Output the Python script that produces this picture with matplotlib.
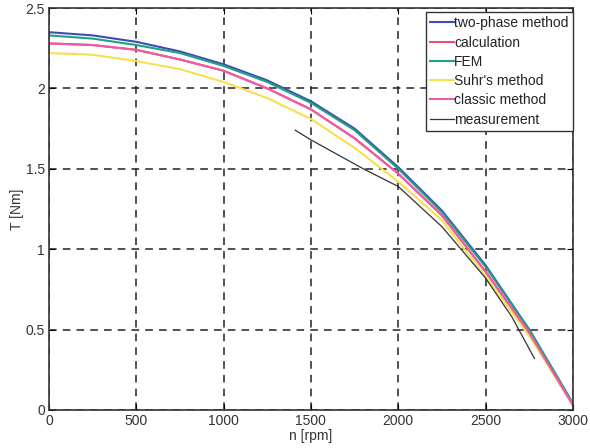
import matplotlib
matplotlib.use("Agg")
import matplotlib.pyplot as plt

plt.rcParams['font.family'] = ['Liberation Sans', 'DejaVu Sans']

n = [0, 250, 500, 750, 1000, 1250, 1500, 1750, 2000, 2250, 2500, 2750, 3000]
two_phase = [2.35, 2.33, 2.29, 2.23, 2.15, 2.05, 1.92, 1.75, 1.51, 1.24, 0.90, 0.50, 0.04]
calculation = [2.28, 2.27, 2.24, 2.18, 2.11, 2.00, 1.87, 1.69, 1.47, 1.21, 0.86, 0.48, 0.03]
fem = [2.33, 2.31, 2.27, 2.22, 2.14, 2.04, 1.91, 1.74, 1.50, 1.23, 0.89, 0.50, 0.04]
suhr = [2.22, 2.21, 2.17, 2.12, 2.04, 1.94, 1.81, 1.63, 1.42, 1.18, 0.83, 0.46, 0.03]
classic = [2.28, 2.27, 2.24, 2.18, 2.11, 2.00, 1.87, 1.69, 1.47, 1.21, 0.86, 0.48, 0.03]

n_meas = [1410, 1500, 1800, 2000, 2250, 2500, 2650, 2780]
t_meas = [1.74, 1.68, 1.50, 1.39, 1.14, 0.82, 0.58, 0.32]

xticks = [0, 500, 1000, 1500, 2000, 2500, 3000]
yticks = [0, 0.5, 1, 1.5, 2, 2.5]
ytick_labels = ['0', '0.5', '1', '1.5', '2', '2.5']

fig = plt.figure(figsize=(5.9, 4.48), dpi=100)
ax = fig.add_axes([0.083, 0.085, 0.888, 0.897])

ax.plot(n, two_phase, color='#3a4fb0', lw=1.5, label='two-phase method')
ax.plot(n, calculation, color='#f0506e', lw=1.5, label='calculation')
ax.plot(n, fem, color='#22a085', lw=1.5, label='FEM')
ax.plot(n, suhr, color='#f5e050', lw=1.5, label="Suhr's method")
ax.plot(n, classic, color='#ee5aa8', lw=1.5, label='classic method')
ax.plot(n_meas, t_meas, color='#333333', lw=0.9, label='measurement')

ax.set_xlim(0, 3000)
ax.set_ylim(0, 2.5)
ax.set_xticks(xticks)
ax.set_yticks(yticks)
ax.set_yticklabels(ytick_labels)
ax.grid(True, color='#222222', linestyle=(0, (5, 4)), lw=1.1)
ax.tick_params(direction='in', top=True, right=True, labelsize=10,
               labelcolor='#333333', length=4, pad=3)
for s in ax.spines.values():
    s.set_color('#333333')
    s.set_linewidth(1.2)

ax.set_xlabel('n [rpm]', fontsize=10, color='#333333', labelpad=1)
ax.set_ylabel('T [Nm]', fontsize=10, color='#333333', labelpad=1)

leg = ax.legend(loc='upper right', fontsize=10, handlelength=1.7,
                handletextpad=0.05, labelspacing=0.38, borderaxespad=0.0,
                fancybox=False, framealpha=1, borderpad=0.3,
                bbox_to_anchor=(1.0, 0.99))
leg.get_frame().set_edgecolor('#333333')
leg.get_frame().set_linewidth(1.0)
for t in leg.get_texts():
    t.set_color('#222222')

fig.savefig('out.png', dpi=100)
